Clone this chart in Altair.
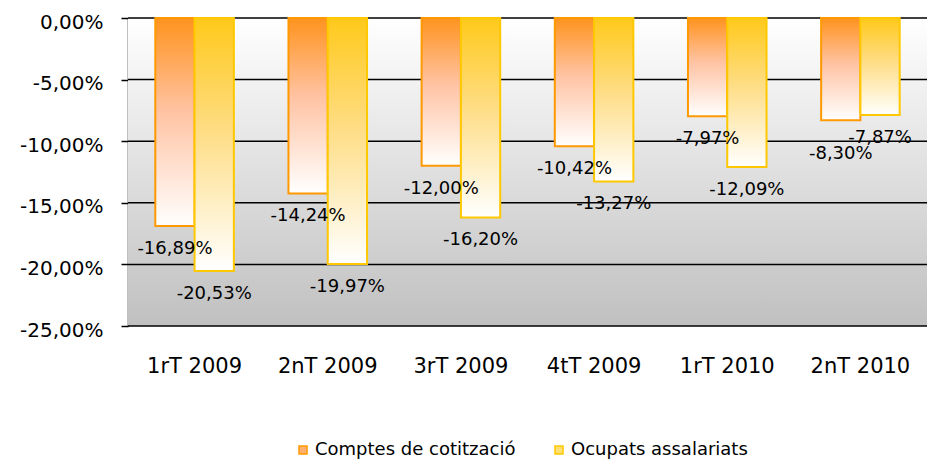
import altair as alt
import pandas as pd

quarters = ["1rT 2009", "2nT 2009", "3rT 2009", "4tT 2009", "1rT 2010", "2nT 2010"]
series = ["Comptes de cotització", "Ocupats assalariats"]
comptes = [-16.89, -14.24, -12.00, -10.42, -7.97, -8.30]
ocupats = [-20.53, -19.97, -16.20, -13.27, -12.09, -7.87]
y_ticks = [0, -5, -10, -15, -20, -25]

rows = []
for q, a, b in zip(quarters, comptes, ocupats):
    rows.append({"quarter": q, "series": series[0], "value": a})
    rows.append({"quarter": q, "series": series[1], "value": b})
df = pd.DataFrame(rows)
grid_df = pd.DataFrame({"tick": y_ticks})

FONT = "DejaVu Sans"
W, H = 799, 308

def fmt(v):
    return "replace(replace(format(" + v + ", '.2f'), '.', ','), '\u2212', '-') + '%'"

y_scale = alt.Scale(domain=[-25, 0], nice=False)
x_scale = alt.Scale(domain=quarters, paddingInner=0.41, paddingOuter=0.205)
off_scale = alt.Scale(domain=series, paddingInner=0, paddingOuter=0)

y_axis = alt.Axis(
    values=y_ticks, labelExpr=fmt("datum.value"), grid=False, title=None,
    domain=True, domainColor="black", domainWidth=1.5,
    ticks=True, tickSize=7, tickColor="black", tickWidth=1.5,
    labelFont=FONT, labelFontSize=20, labelColor="black",
    labelPadding=18, labelOffset=4,
)

bg = alt.Chart(alt.Data(values=[{}])).mark_rect(
    fill=alt.Gradient(gradient="linear", x1=0, x2=0, y1=0, y2=1,
                      stops=[alt.GradientStop(color="#ffffff", offset=0),
                             alt.GradientStop(color="#c0c0c0", offset=1)])
).encode(x=alt.value(0), x2=alt.value(W), y=alt.value(0), y2=alt.value(H))

grid = alt.Chart(grid_df).mark_rule(color="black", strokeWidth=1.5).encode(
    y=alt.Y("tick:Q", scale=y_scale, axis=y_axis)
)

def bar_layer(s, top, stroke, axis):
    grad = alt.Gradient(gradient="linear", x1=0, x2=0, y1=0, y2=1,
                        stops=[alt.GradientStop(color=top[0], offset=0),
                               alt.GradientStop(color=top[1], offset=0.45),
                               alt.GradientStop(color="#ffffff", offset=1)])
    return alt.Chart(df).transform_filter(alt.datum.series == s).mark_bar(
        fill=grad, stroke=stroke, strokeWidth=2
    ).encode(
        x=alt.X("quarter:N", scale=x_scale, sort=quarters, axis=axis),
        xOffset=alt.XOffset("series:N", scale=off_scale),
        y=alt.Y("value:Q", scale=y_scale, axis=y_axis),
    )

bottom_axis = alt.Axis(
    orient="bottom", title=None, domain=False, ticks=False, labelAngle=0,
    labelFont=FONT, labelFontSize=21, labelColor="black", labelPadding=29,
)
top_axis = alt.Axis(
    orient="top", title=None, labels=False, domain=False, ticks=True,
    tickSize=6, offset=-6, tickBand="extent", tickColor="black", tickWidth=1.5,
)

bar_a = bar_layer(series[0], ("#ff931e", "#ffc3a3"), "#ff9900", bottom_axis)
bar_b = bar_layer(series[1], ("#ffc91a", "#fedd85"), "#ffc800", None)

# labels sit below each bar end; when the two bars of a quarter end at nearly
# the same level, the first series' label drops a bit further to stay readable
labels = alt.Chart(df).transform_joinaggregate(
    lo="min(value)", hi="max(value)", groupby=["quarter"]
).transform_calculate(
    label=fmt("datum.value"),
    ly="datum.value - ((datum.hi - datum.lo < 1 && datum.series == '" + series[0] + "') ? 2.7 : 1.85)",
).mark_text(font=FONT, fontSize=18, color="black", baseline="middle").encode(
    x=alt.X("quarter:N", scale=x_scale, sort=quarters, axis=top_axis),
    xOffset=alt.XOffset("series:N", scale=off_scale),
    y=alt.Y("ly:Q", scale=y_scale, axis=y_axis),
    text="label:N",
)

leg = alt.Legend(
    title=None, orient="none", legendX=166, legendY=423, direction="horizontal",
    labelFont=FONT, labelFontSize=18, labelColor="black", labelLimit=0,
    symbolType="square", symbolSize=64, symbolStrokeWidth=1.5,
    columnPadding=34, labelOffset=3,
)
dummy = alt.Chart(df).mark_square(clip=True, opacity=1, strokeWidth=1.5).encode(
    x=alt.value(-200), y=alt.value(-200),
    fill=alt.Fill("series:N", scale=alt.Scale(domain=series, range=["#ffb070", "#ffe070"]), legend=leg),
    stroke=alt.Stroke("series:N", scale=alt.Scale(domain=series, range=["#ff9900", "#ffc800"]), legend=leg),
)

chart = alt.layer(bg, grid, bar_a, bar_b, labels, dummy).resolve_axis(x="independent").properties(
    width=W, height=H,
    autosize=alt.AutoSizeParams(type="none"),
    padding={"left": 120, "top": 10, "right": 0, "bottom": 136},
).configure_view(stroke=None)

chart.save("out.html", embed_options={"renderer": "svg", "actions": False})
